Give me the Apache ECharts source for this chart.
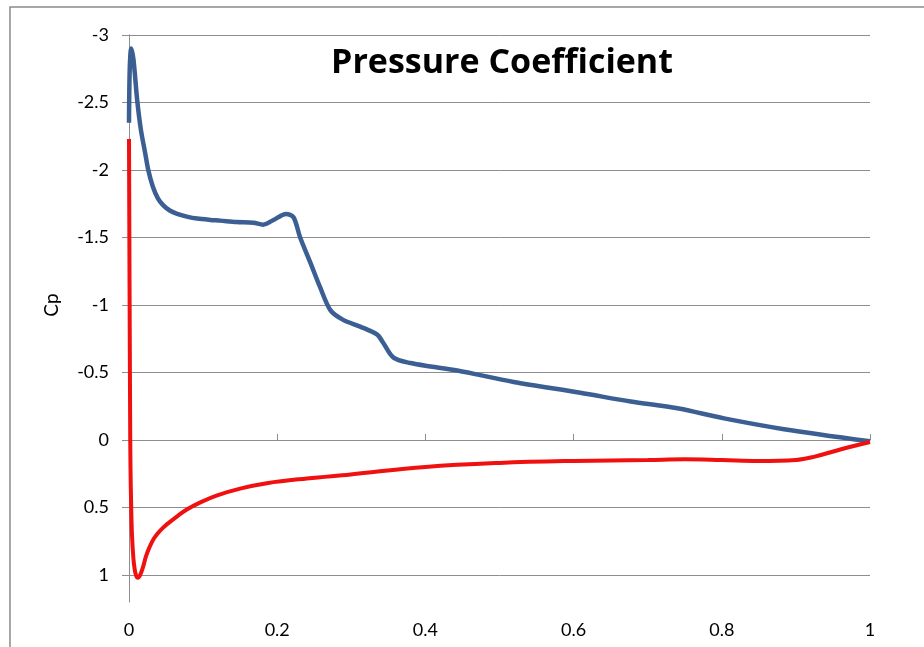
<!DOCTYPE html>
<html>
<head>
<meta charset="utf-8">
<script src="https://cdn.jsdelivr.net/npm/echarts@6/dist/echarts.min.js"></script>
<style>
html,body{margin:0;padding:0;background:#fff;}
#chart{width:924px;height:647px;}
</style>
</head>
<body>
<div id="chart"></div>
<script>
// Upper surface (blue): [x/c, Cp]
var upperX  = [0, 0.001, 0.003, 0.006, 0.011, 0.016, 0.022, 0.026, 0.032, 0.039, 0.046, 0.055, 0.065, 0.078, 0.092, 0.11, 0.123, 0.145, 0.168, 0.181, 0.195, 0.212, 0.222, 0.231, 0.245, 0.258, 0.272, 0.289, 0.312, 0.335, 0.343, 0.357, 0.38, 0.407, 0.443, 0.519, 0.609, 0.677, 0.74, 0.803, 0.884, 1.0];
var upperCp = [-2.35, -2.75, -2.9, -2.82, -2.52, -2.3, -2.12, -2.0, -1.88, -1.79, -1.74, -1.70, -1.675, -1.655, -1.64, -1.63, -1.625, -1.615, -1.61, -1.595, -1.63, -1.675, -1.65, -1.5, -1.31, -1.13, -0.96, -0.89, -0.84, -0.78, -0.72, -0.61, -0.57, -0.545, -0.515, -0.43, -0.35, -0.285, -0.235, -0.16, -0.08, 0.01];
// Lower surface (red): [x/c, Cp]
var lowerX  = [0, 0.0005, 0.001, 0.0015, 0.002, 0.003, 0.004, 0.006, 0.008, 0.010, 0.012, 0.015, 0.019, 0.023, 0.028, 0.033, 0.039, 0.045, 0.051, 0.065, 0.078, 0.097, 0.119, 0.15, 0.186, 0.24, 0.299, 0.4, 0.5, 0.6, 0.7, 0.75, 0.8, 0.85, 0.9, 0.924, 0.96, 1.0];
var lowerCp = [-2.23, -1.5, -0.8, -0.2, 0.2, 0.5, 0.7, 0.88, 0.97, 1.01, 1.02, 1.0, 0.94, 0.86, 0.79, 0.735, 0.69, 0.655, 0.625, 0.565, 0.515, 0.46, 0.41, 0.36, 0.32, 0.285, 0.255, 0.2, 0.17, 0.155, 0.148, 0.143, 0.148, 0.155, 0.148, 0.125, 0.07, 0.015];
var yTicks = [-3, -2.5, -2, -1.5, -1, -0.5, 0, 0.5, 1];
var xTicks = [0, 0.2, 0.4, 0.6, 0.8, 1];
var titleText = 'Pressure Coefficient';
var yName = 'Cp';

function pairs(xs, ys){ return xs.map(function(x,i){ return [x, ys[i]]; }); }

var font = 'Lato, "Open Sans", sans-serif';
var gridColor = '#8e8e8e';

var chart = echarts.init(document.getElementById('chart'), null, {renderer:'canvas'});
chart.setOption({
  backgroundColor: '#ffffff',
  animation: false,
  title: {
    text: titleText, left: 497, top: 41, textAlign: 'center',
    textStyle: {fontFamily: '"Open Sans", sans-serif', fontSize: 34, fontWeight: 'bold', color: '#000'}
  },
  graphic: [{
    type: 'rect', shape: {x: 10, y: 7, width: 1200, height: 1000},
    style: {fill: 'none', stroke: '#8a8a8a', lineWidth: 1.5}, silent: true, z: -1
  }],
  grid: [
    {left: 129, right: 54, top: 35, bottom: 72},
    {left: 129, right: 54, top: 35, bottom: 45}
  ],
  xAxis: [
    {type: 'value', gridIndex: 0, min: 0, max: 1, interval: 0.2,
     axisLine: {show: true, onZero: true, lineStyle: {color: gridColor, width: 1}},
     axisTick: {show: true, inside: true, length: 6, lineStyle: {color: gridColor}},
     axisLabel: {show: false}, splitLine: {show: false}},
    {type: 'value', gridIndex: 1, min: 0, max: 1, interval: 0.2,
     axisLine: {show: false, onZero: false}, axisTick: {show: false}, splitLine: {show: false},
     axisLabel: {show: true, margin: 19, fontFamily: font, fontSize: 18, color: '#000',
       formatter: function(v){ return xTicks.indexOf(+v.toFixed(2)) >= 0 ? String(+v.toFixed(2)) : ''; }}}
  ],
  yAxis: [
    {type: 'value', gridIndex: 0, min: -3, max: 1, interval: 0.5, inverse: true,
     name: yName, nameLocation: 'middle', nameGap: 68, nameRotate: 90,
     nameTextStyle: {fontFamily: font, fontSize: 19, color: '#000'},
     axisLine: {show: true, lineStyle: {color: gridColor}},
     axisTick: {show: true, length: 7, lineStyle: {color: gridColor}},
     axisLabel: {margin: 20, fontFamily: font, fontSize: 18, color: '#000',
       formatter: function(v){ return yTicks.indexOf(+v.toFixed(2)) >= 0 ? String(+v.toFixed(2)) : ''; }},
     splitLine: {show: true, lineStyle: {color: gridColor, width: 1}}},
    {type: 'value', gridIndex: 1, min: -3, max: 1.2, inverse: true,
     axisLine: {show: true, onZero: false, lineStyle: {color: gridColor}},
     axisTick: {show: false}, axisLabel: {show: false}, splitLine: {show: false}}
  ],
  series: [
    {type: 'line', name: 'Upper', xAxisIndex: 0, yAxisIndex: 0, data: pairs(upperX, upperCp),
     showSymbol: false, smooth: 0.3, clip: false,
     lineStyle: {color: '#3b5f92', width: 4.5}, z: 3},
    {type: 'line', name: 'Lower', xAxisIndex: 0, yAxisIndex: 0, data: pairs(lowerX, lowerCp),
     showSymbol: false, smooth: 0.4, clip: false,
     lineStyle: {color: '#f01010', width: 4}, z: 4}
  ]
});
</script>
</body>
</html>
